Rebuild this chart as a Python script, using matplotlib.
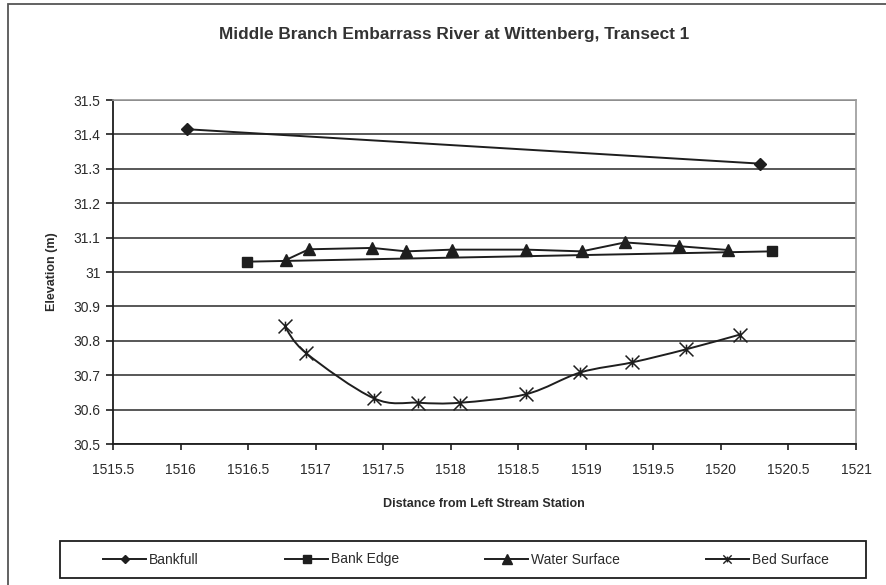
import matplotlib
matplotlib.use("Agg")
import matplotlib.pyplot as plt
import numpy as np
from matplotlib.path import Path
from matplotlib.patches import PathPatch, Rectangle
from matplotlib.lines import Line2D
from matplotlib.ticker import FormatStrFormatter

matplotlib.rcParams.update(
    {
        "font.family": ["Liberation Sans", "DejaVu Sans"],
        "font.size": 10,
        "figure.facecolor": "white",
        "axes.facecolor": "white",
    }
)

# values
bankfull_x = [1516.05, 1520.29]
bankfull_y = [31.415, 31.315]
edge_x = [1516.49, 1520.38]
edge_y = [31.030, 31.060]
water_x = [1516.78, 1516.95, 1517.42, 1517.67, 1518.01, 1518.56, 1518.97, 1519.29, 1519.69, 1520.05]
water_y = [31.035, 31.066, 31.070, 31.060, 31.065, 31.065, 31.060, 31.086, 31.075, 31.064]
bed_x = [1516.77, 1516.93, 1517.43, 1517.76, 1518.07, 1518.56, 1518.96, 1519.34, 1519.74, 1520.14]
bed_y = [30.843, 30.764, 30.633, 30.620, 30.620, 30.645, 30.708, 30.737, 30.775, 30.818]

series_names = ["Bankfull", "Bank Edge", "Water Surface", "Bed Surface"]
x_ticks = [1515.5, 1516, 1516.5, 1517, 1517.5, 1518, 1518.5, 1519, 1519.5, 1520, 1520.5, 1521]
y_ticks = [30.5, 30.6, 30.7, 30.8, 30.9, 31.0, 31.1, 31.2, 31.3, 31.4, 31.5]

ink = "#1e1e1e"
text_col = "#2b2b2b"

# Excel "star" marker: an X with a vertical stroke
star = Path(
    [(-1, -1), (1, 1), (-1, 1), (1, -1), (0, -0.7), (0, 0.7)],
    [Path.MOVETO, Path.LINETO, Path.MOVETO, Path.LINETO, Path.MOVETO, Path.LINETO],
)


def smooth_path(xs, ys):
    # Catmull-Rom through the points, drawn as cubic Beziers (Excel smoothed line)
    p = np.column_stack([xs, ys])
    ext = np.vstack([p[0], p, p[-1]])
    verts = [tuple(p[0])]
    codes = [Path.MOVETO]
    for i in range(len(p) - 1):
        p0, p1, p2, p3 = ext[i], ext[i + 1], ext[i + 2], ext[i + 3]
        c1 = p1 + (p2 - p0) / 6.0
        c2 = p2 - (p3 - p1) / 6.0
        verts += [tuple(c1), tuple(c2), tuple(p2)]
        codes += [Path.CURVE4] * 3
    return Path(verts, codes)


fig = plt.figure(figsize=(8.87, 5.85), dpi=100)
ax = fig.add_axes([113 / 887, 1 - 444 / 585, 743 / 887, 344 / 585])

lw = 1.4
ax.plot(bankfull_x, bankfull_y, color=ink, lw=lw, marker="D", ms=6, zorder=3)
ax.plot(edge_x, edge_y, color=ink, lw=lw, marker="s", ms=7.5, zorder=3)
ax.plot(water_x, water_y, color=ink, lw=lw, marker="^", ms=9, zorder=3)
ax.add_patch(PathPatch(smooth_path(bed_x, bed_y), fill=False, edgecolor=ink, lw=lw, zorder=3))
ax.plot(bed_x, bed_y, ls="none", marker=star, ms=10, mew=1.1, mec=ink, zorder=4)

ax.set_xlim(1515.5, 1521)
ax.set_ylim(30.5, 31.5)
ax.set_xticks(x_ticks)
ax.set_yticks(y_ticks)
ax.xaxis.set_major_formatter(FormatStrFormatter("%g"))
ax.yaxis.set_major_formatter(FormatStrFormatter("%g"))
ax.tick_params(axis="x", direction="out", length=4, width=1.2, pad=10, colors=ink, labelcolor=text_col, labelsize=10)
ax.tick_params(axis="y", direction="out", length=5, width=1.2, pad=4, colors=ink, labelcolor=text_col, labelsize=10)

ax.grid(axis="y", color="#4a4a4a", lw=1.3)
ax.set_axisbelow(True)
for side in ["top", "right"]:
    ax.spines[side].set_color("#9a9a9a")
    ax.spines[side].set_linewidth(1.2)
for side in ["left", "bottom"]:
    ax.spines[side].set_color(ink)
    ax.spines[side].set_linewidth(1.3)

fig.text(454 / 887, 1 - 35 / 585, "Middle Branch Embarrass River at Wittenberg, Transect 1",
         ha="center", va="center", fontsize=12.4, fontweight="bold", color="#333333")
fig.text(484 / 887, 1 - 504 / 585, "Distance from Left Stream Station",
         ha="center", va="center", fontsize=9, fontweight="bold", color=text_col)
fig.text(52 / 887, 1 - 272 / 585, "Elevation (m)", rotation=90,
         ha="center", va="center", fontsize=9, fontweight="bold", color=text_col)

# legend: frameless entries inside a separately drawn box
handles = [
    Line2D([], [], color=ink, lw=lw, marker="D", ms=4.5),
    Line2D([], [], color=ink, lw=lw, marker="s", ms=5.5),
    Line2D([], [], color=ink, lw=lw, marker="^", ms=7),
    Line2D([], [], color=ink, lw=lw, marker=star, ms=6, mew=1.0),
]
fig.legend(
    handles, series_names, loc="center", ncol=4,
    bbox_to_anchor=(466 / 887, 1 - 559.5 / 585),
    frameon=False, handlelength=3.1, handletextpad=0.2,
    columnspacing=6.2, fontsize=10, labelcolor=text_col,
)
fig.patches.append(Rectangle((60 / 887, 1 - 578 / 585), 806 / 887, 37 / 585,
                             transform=fig.transFigure, fill=False, edgecolor=ink, lw=1.3))

# chart-area border (left and top edges visible in the crop)
fig.patches.append(Rectangle((8 / 887, -0.5), 2.0, 1.5 - 4 / 585, transform=fig.transFigure,
                             fill=False, edgecolor="#555555", lw=1.3))

fig.savefig("out.png", dpi=100)
